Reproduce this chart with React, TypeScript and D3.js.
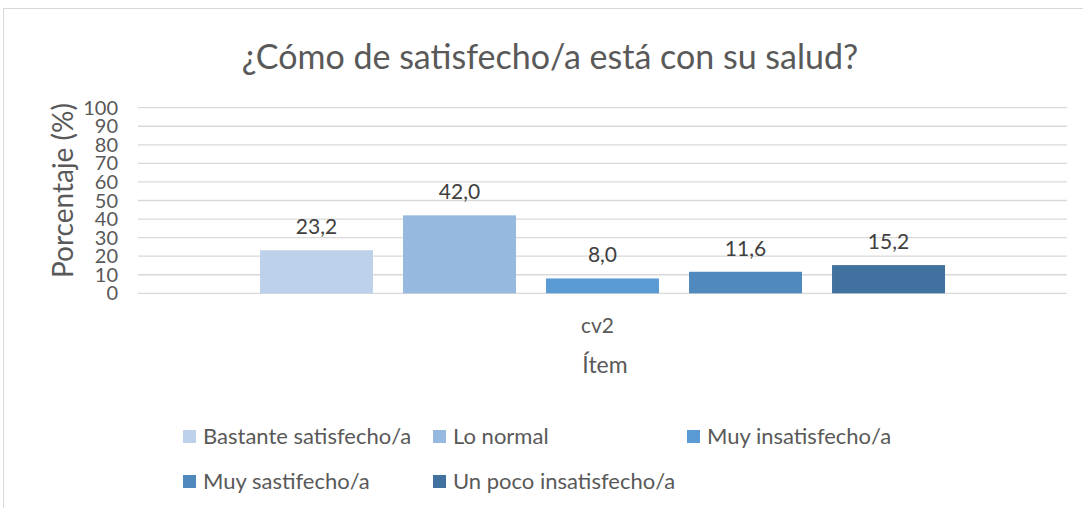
import React from "react";
import * as d3 from "d3";

const categories = ["cv2"];
const seriesNames = [
  "Bastante satisfecho/a",
  "Lo normal",
  "Muy insatisfecho/a",
  "Muy sastifecho/a",
  "Un poco insatisfecho/a",
];
const seriesValues = [23.2, 42.0, 8.0, 11.6, 15.2];
const seriesColors = ["#BDD1EA", "#97B8DF", "#5B9BD5", "#4F89BE", "#41729F"];
const yTicks = [0, 10, 20, 30, 40, 50, 60, 70, 80, 90, 100];

const width = 1083;
const height = 508;
const margin = { top: 107.7, right: 16, bottom: 214.7, left: 138 };
const textColor = "#595959";
const font = "Lato, 'Open Sans', sans-serif";

function App() {
  const x = d3
    .scaleBand()
    .domain(categories)
    .range([margin.left, width - margin.right]);
  const xs = d3
    .scaleBand()
    .domain(seriesNames)
    .range([0, x.bandwidth()])
    .paddingInner(0.21)
    .paddingOuter(0.853);
  const y = d3
    .scaleLinear()
    .domain([0, 100])
    .range([height - margin.bottom, margin.top]);

  const fmt = (v) => d3.format(".1f")(v).replace(".", ",");

  // legend positions (rows of 3)
  const legendX = [184, 434, 688];
  const legendY = [436, 481];

  return (
    <svg
      width={width}
      height={height}
      style={{ position: "absolute", left: 0, top: 0, background: "#fff" }}
      fontFamily={font}
    >
      <rect x={3.5} y={8.5} width={1100} height={520} fill="#fff" stroke="#D9D9D9" />
      <text x={550} y={69} textAnchor="middle" fontSize={34} fill={textColor}>
        ¿Cómo de satisfecho/a está con su salud?
      </text>

      {yTicks.map((t) => (
        <g key={t}>
          <line
            x1={margin.left}
            x2={width - margin.right}
            y1={y(t)}
            y2={y(t)}
            stroke="#D9D9D9"
            strokeWidth={1.3}
          />
          <text x={118} y={y(t)} dy="0.35em" textAnchor="end" fontSize={20} fill={textColor}>
            {t}
          </text>
        </g>
      ))}

      <text
        transform={`translate(63,${(y(0) + y(100)) / 2 - 10}) rotate(-90)`}
        textAnchor="middle"
        dy="0.35em"
        fontSize={28}
        fill={textColor}
      >
        Porcentaje (%)
      </text>

      {categories.map((c) => (
        <g key={c}>
          {seriesNames.map((s, i) => {
            const bx = x(c) + xs(s);
            const v = seriesValues[i];
            return (
              <g key={s}>
                <rect
                  x={bx}
                  y={y(v)}
                  width={xs.bandwidth()}
                  height={y(0) - y(v)}
                  fill={seriesColors[i]}
                />
                <text
                  x={bx + xs.bandwidth() / 2}
                  y={y(v) - 16}
                  textAnchor="middle"
                  fontSize={21}
                  fill="#404040"
                >
                  {fmt(v)}
                </text>
              </g>
            );
          })}
          <text x={x(c) + x.bandwidth() / 2 - 5} y={333} textAnchor="middle" fontSize={21} fill={textColor}>
            {c}
          </text>
        </g>
      ))}

      <text x={605} y={373} textAnchor="middle" fontSize={23} fill={textColor}>
        Ítem
      </text>

      {seriesNames.map((s, i) => {
        const lx = legendX[i % 3];
        const ly = legendY[Math.floor(i / 3)];
        return (
          <g key={s}>
            <rect x={lx - 1} y={ly - 6} width={13} height={13} fill={seriesColors[i]} />
            <text x={lx + 19} y={ly} dy="0.35em" fontSize={22} fill={textColor}>
              {s}
            </text>
          </g>
        );
      })}
    </svg>
  );
}

export default App;
